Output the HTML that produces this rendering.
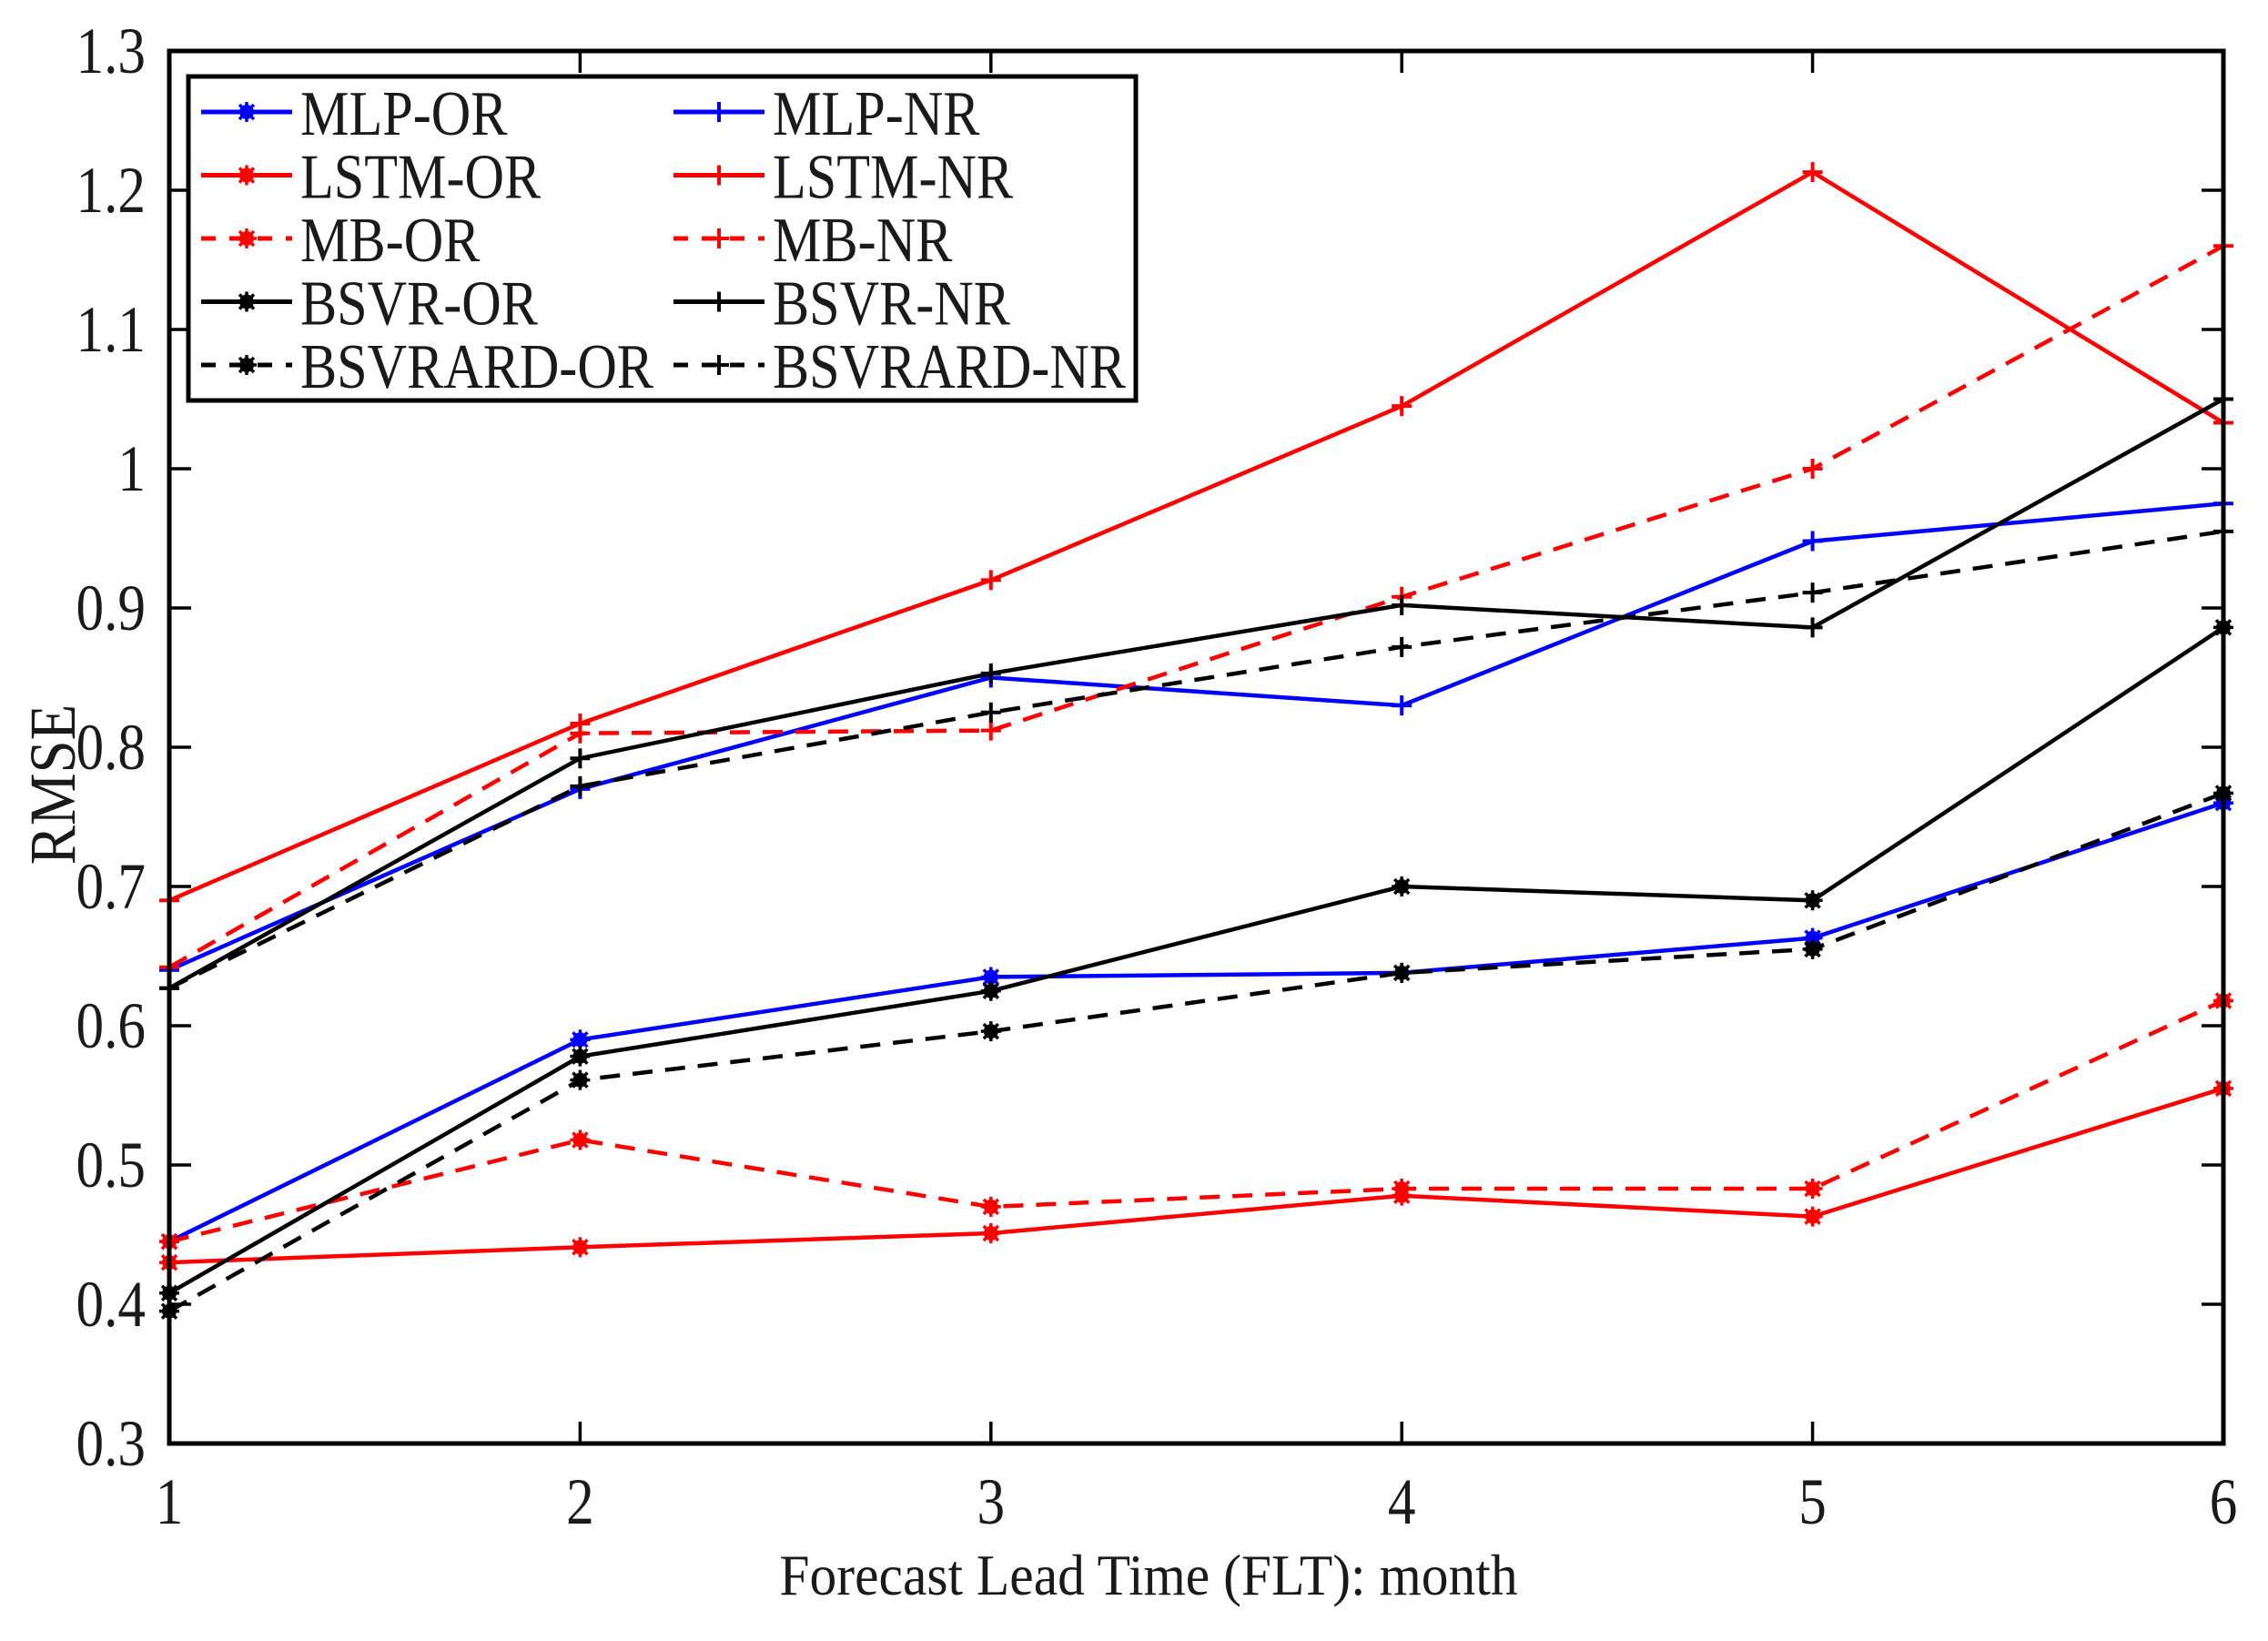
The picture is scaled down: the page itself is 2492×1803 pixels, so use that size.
<!DOCTYPE html>
<html><head><meta charset="utf-8"><style>
html,body{margin:0;padding:0;background:#fff;}
svg{display:block;font-family:"Liberation Serif",serif;}
</style></head><body>
<svg id="chart" width="2492" height="1803" viewBox="0 0 2492 1803" xmlns="http://www.w3.org/2000/svg">
<rect width="2492" height="1803" fill="#fff"/>
<g id="marks"></g>
<g id="axes"></g>
<g id="legend"></g>
</svg>
<script>
const categories = [1, 2, 3, 4, 5, 6];
const yTicks = [0.3, 0.4, 0.5, 0.6, 0.7, 0.8, 0.9, 1, 1.1, 1.2, 1.3];
const yTickLabels = ["0.3","0.4","0.5","0.6","0.7","0.8","0.9","1","1.1","1.2","1.3"];
const seriesNames = ["MLP-OR","MLP-NR","LSTM-OR","LSTM-NR","MB-OR","MB-NR","BSVR-OR","BSVR-NR","BSVRARD-OR","BSVRARD-NR"];
const mlpOR = [0.445, 0.59, 0.635, 0.638, 0.663, 0.76];
const mlpNR = [0.64, 0.77, 0.85, 0.83, 0.948, 0.975];
const lstmOR = [0.43, 0.441, 0.451, 0.478, 0.463, 0.555];
const lstmNR = [0.69, 0.817, 0.92, 1.045, 1.213, 1.033];
const mbOR = [0.445, 0.518, 0.47, 0.483, 0.483, 0.618];
const mbNR = [0.642, 0.81, 0.812, 0.908, 1.0, 1.16];
const bsvrOR = [0.408, 0.578, 0.625, 0.7, 0.69, 0.886];
const bsvrNR = [0.627, 0.792, 0.853, 0.902, 0.886, 1.05];
const bsvrardOR = [0.395, 0.561, 0.596, 0.638, 0.655, 0.767];
const bsvrardNR = [0.627, 0.772, 0.825, 0.872, 0.911, 0.955];

const NS = "http://www.w3.org/2000/svg";
const L = 186, R = 2443, T = 56, B = 1586;
const xMin = 1, xMax = 6, yMin = 0.3, yMax = 1.3;
function xS(v){ return L + (v - xMin) / (xMax - xMin) * (R - L); }
function yS(v){ return B - (v - yMin) / (yMax - yMin) * (B - T); }
function mk(tag, attrs, parent){
  const e = document.createElementNS(NS, tag);
  for (const k in attrs) e.setAttribute(k, attrs[k]);
  parent.appendChild(e);
  return e;
}
function txt(parent, x, y, size, sx, anchor, str, extra){
  const t = mk("text", {x:0, y:0, "font-size":size, "text-anchor":anchor, fill:"#1a1a1a",
    transform:`translate(${x},${y}) ${extra||""} scale(${sx},1)`}, parent);
  t.textContent = str;
  return t;
}
const styles = [
  {data: mlpOR, color:"#0000ff", dash:null, mark:"star"},
  {data: mlpNR, color:"#0000ff", dash:null, mark:"plus"},
  {data: lstmOR, color:"#ff0000", dash:null, mark:"star"},
  {data: lstmNR, color:"#ff0000", dash:null, mark:"plus"},
  {data: mbOR, color:"#ff0000", dash:"22,14", mark:"star"},
  {data: mbNR, color:"#ff0000", dash:"22,14", mark:"plus"},
  {data: bsvrOR, color:"#000000", dash:null, mark:"star"},
  {data: bsvrNR, color:"#000000", dash:null, mark:"plus"},
  {data: bsvrardOR, color:"#000000", dash:"22,14", mark:"star"},
  {data: bsvrardNR, color:"#000000", dash:"22,14", mark:"plus"}
];
function drawMarker(g, type, x, y, color){
  if (type === "plus"){
    const m = mk("path", {d:`M${x-11},${y}H${x+11}M${x},${y-11}V${y+11}`, stroke:color, "stroke-width":4, fill:"none"}, g);
    
    
  } else {
    const m = mk("g", {}, g);
    
    
    mk("circle", {cx:x, cy:y, r:8, fill:color}, m);
    mk("path", {d:`M${x-11},${y}H${x+11}M${x},${y-11}V${y+11}M${x-8},${y-8}L${x+8},${y+8}M${x-8},${y+8}L${x+8},${y-8}`, stroke:color, "stroke-width":3.5, fill:"none"}, m);
  }
}
const marks = document.getElementById("marks");
styles.forEach((s, i) => {
  const g = mk("g", {}, marks);
  
  
  const pts = s.data.map((v, j) => xS(categories[j]).toFixed(1) + "," + yS(v).toFixed(1)).join(" ");
  const pl = mk("polyline", {points:pts, fill:"none", stroke:s.color, "stroke-width":4.5}, g);
  if (s.dash) pl.setAttribute("stroke-dasharray", s.dash);
  
  
  s.data.forEach((v, j) => drawMarker(g, s.mark, xS(categories[j]), yS(v), s.color));
});

// axes
const ax = document.getElementById("axes");
const frame = mk("rect", {x:L, y:T, width:R-L, height:B-T, fill:"none", stroke:"#000", "stroke-width":5}, ax);


yTicks.forEach((v, i) => {
  const y = yS(v);
  mk("path", {d:`M${L},${y}H${L+24}M${R},${y}H${R-24}`, stroke:"#000", "stroke-width":3.5}, ax);
  const t = txt(ax, L-26, y+24, 72, 0.85, "end", yTickLabels[i]);
  
  
});
categories.forEach(c => {
  const x = xS(c);
  mk("path", {d:`M${x},${B}V${B-24}M${x},${T}V${T+24}`, stroke:"#000", "stroke-width":3.5}, ax);
  const t = txt(ax, x, B+88, 72, 0.85, "middle", String(c));
  
  
});
const xt = txt(ax, 1262, 1752, 64, 0.93, "middle", "Forecast Lead Time (FLT): month");


const yt = txt(ax, 82, 862, 72, 0.9, "middle", "RMSE", "rotate(-90)");



// legend
const lg = document.getElementById("legend");


mk("rect", {x:207, y:84, width:1041, height:356, fill:"#fff", stroke:"#000", "stroke-width":5}, lg);
styles.forEach((s, i) => {
  const col = i % 2, row = Math.floor(i / 2);
  const x0 = col === 0 ? 221 : 740;
  const y = 123 + row * 69.5;
  const e = mk("g", {}, lg);
  
  
  const ln = mk("line", {x1:x0, y1:y, x2:x0+100, y2:y, stroke:s.color, "stroke-width":5}, e);
  if (s.dash) ln.setAttribute("stroke-dasharray", "16,15");
  drawMarker(e, s.mark, x0+50, y, s.color);
  txt(e, x0+109, y+25, 70, 0.86, "start", seriesNames[i]);
});
</script>
</body></html>
